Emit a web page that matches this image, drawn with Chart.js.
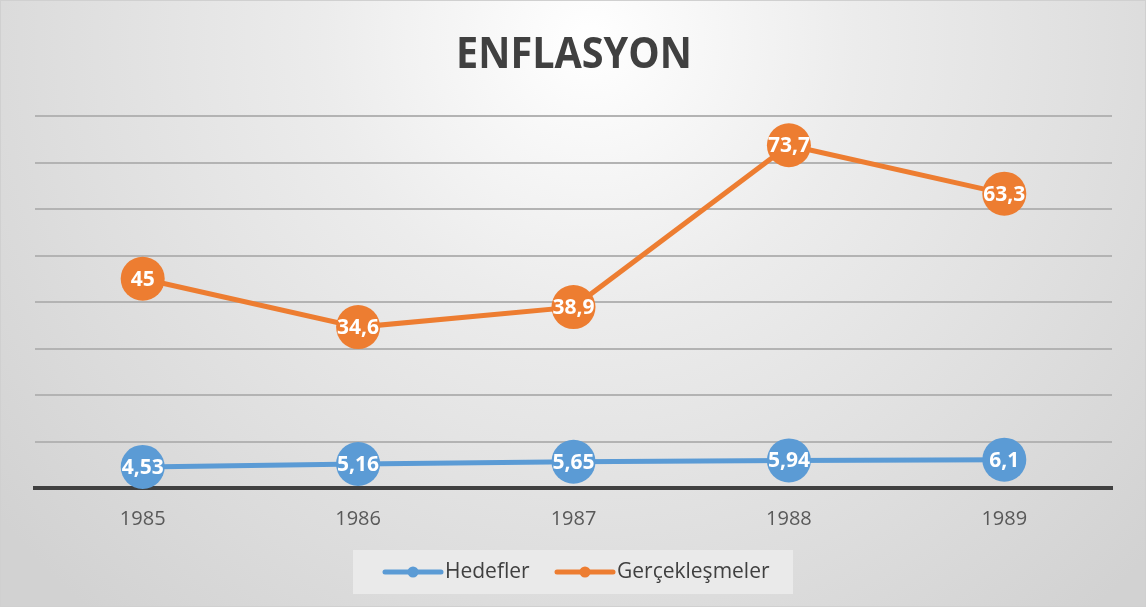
<!DOCTYPE html>
<html><head><meta charset="utf-8">
<script src="https://cdn.jsdelivr.net/npm/chart.js@4/dist/chart.umd.min.js"></script>
<style>html,body{margin:0;padding:0;background:#fff;}#wrap{width:1146px;height:607px;position:relative;}</style>
</head><body><div id="wrap"><canvas id="c" width="1146" height="607"></canvas></div>
<script>
const years = ["1985","1986","1987","1988","1989"];
const hedefler = [4.53, 5.16, 5.65, 5.94, 6.1];
const gerceklesmeler = [45, 34.6, 38.9, 73.7, 63.3];
const titleText = "ENFLASYON";
const seriesNames = ["Hedefler", "Gerçekleşmeler"];
const BLUE = "#5B9BD5", ORANGE = "#ED7D31";
const FONT = "'Open Sans', 'DejaVu Sans', sans-serif";

const fmt = v => String(v).replace('.', ',');

const bgPlugin = {
  id: 'bg',
  beforeDraw(chart) {
    const ctx = chart.ctx, w = chart.width, h = chart.height;
    ctx.save();
    const g = ctx.createRadialGradient(590, 40, 0, 590, 40, 760);
    g.addColorStop(0, '#ffffff');
    g.addColorStop(0.35, '#ececec');
    g.addColorStop(1, '#d2d2d2');
    ctx.fillStyle = g;
    ctx.fillRect(0, 0, w, h);
    ctx.strokeStyle = '#d0d0d0';
    ctx.lineWidth = 1;
    ctx.strokeRect(0.5, 0.5, w - 1, h - 1);
    // title (slightly condensed, taller)
    ctx.fillStyle = '#404040';
    ctx.font = "bold 43px " + FONT;
    ctx.textAlign = 'center';
    ctx.textBaseline = 'middle';
    ctx.translate(574, 56);
    ctx.scale(0.92, 1);
    ctx.fillText(titleText, 0, 0);
    ctx.restore();
  },
  afterDraw(chart) {
    const ctx = chart.ctx;
    ctx.save();
    ctx.fillStyle = 'rgba(235,235,235,0.9)';
    ctx.fillRect(353, 550, 440, 44);
    const items = [
      {c: BLUE, x: 385, t: seriesNames[0]},
      {c: ORANGE, x: 557, t: seriesNames[1]}
    ];
    const ly = 572;
    items.forEach(it => {
      ctx.strokeStyle = it.c;
      ctx.lineWidth = 5;
      ctx.lineCap = 'round';
      ctx.beginPath();
      ctx.moveTo(it.x, ly);
      ctx.lineTo(it.x + 56, ly);
      ctx.stroke();
      ctx.fillStyle = it.c;
      ctx.beginPath();
      ctx.arc(it.x + 28, ly, 5.5, 0, Math.PI * 2);
      ctx.fill();
      ctx.fillStyle = '#404040';
      ctx.font = "21px " + FONT;
      ctx.textAlign = 'left';
      ctx.textBaseline = 'middle';
      ctx.fillText(it.t, it.x + 60, ly);
    });
    ctx.restore();
  },
  afterDatasetsDraw(chart) {
    const ctx = chart.ctx;
    ctx.save();
    ctx.fillStyle = '#ffffff';
    ctx.font = "bold 21px " + FONT;
    ctx.textAlign = 'center';
    ctx.textBaseline = 'middle';
    chart.data.datasets.forEach((ds, i) => {
      const meta = chart.getDatasetMeta(i);
      meta.data.forEach((pt, j) => {
        ctx.fillText(fmt(ds.data[j]), pt.x, pt.y + 1);
      });
    });
    ctx.restore();
  }
};

new Chart(document.getElementById('c'), {
  type: 'line',
  data: {
    labels: years,
    datasets: [
      {label: seriesNames[0], data: hedefler, borderColor: BLUE, backgroundColor: BLUE,
       borderWidth: 5, pointRadius: 22, pointHoverRadius: 22, pointBorderWidth: 0, clip: false, tension: 0},
      {label: seriesNames[1], data: gerceklesmeler, borderColor: ORANGE, backgroundColor: ORANGE,
       borderWidth: 5, pointRadius: 22, pointHoverRadius: 22, pointBorderWidth: 0, clip: false, tension: 0}
    ]
  },
  options: {
    responsive: false,
    animation: false,
    events: [],
    layout: {padding: {left: 35, right: 34, top: 116, bottom: 0}},
    plugins: {legend: {display: false}, title: {display: false}, tooltip: {enabled: false}},
    scales: {
      x: {
        offset: true,
        grid: {display: false, drawTicks: false},
        border: {display: true, color: '#404040', width: 4},
        ticks: {color: '#595959', font: {family: FONT, size: 20}, padding: 19},
        afterFit(s) { s.height = 119; }
      },
      y: {
        min: 0, max: 80,
        ticks: {display: false, stepSize: 10},
        grid: {color: '#b3b3b3', lineWidth: 2, drawTicks: false},
        border: {display: false},
        afterFit(s) { s.width = 0; }
      }
    }
  },
  plugins: [bgPlugin]
});
</script></body></html>
